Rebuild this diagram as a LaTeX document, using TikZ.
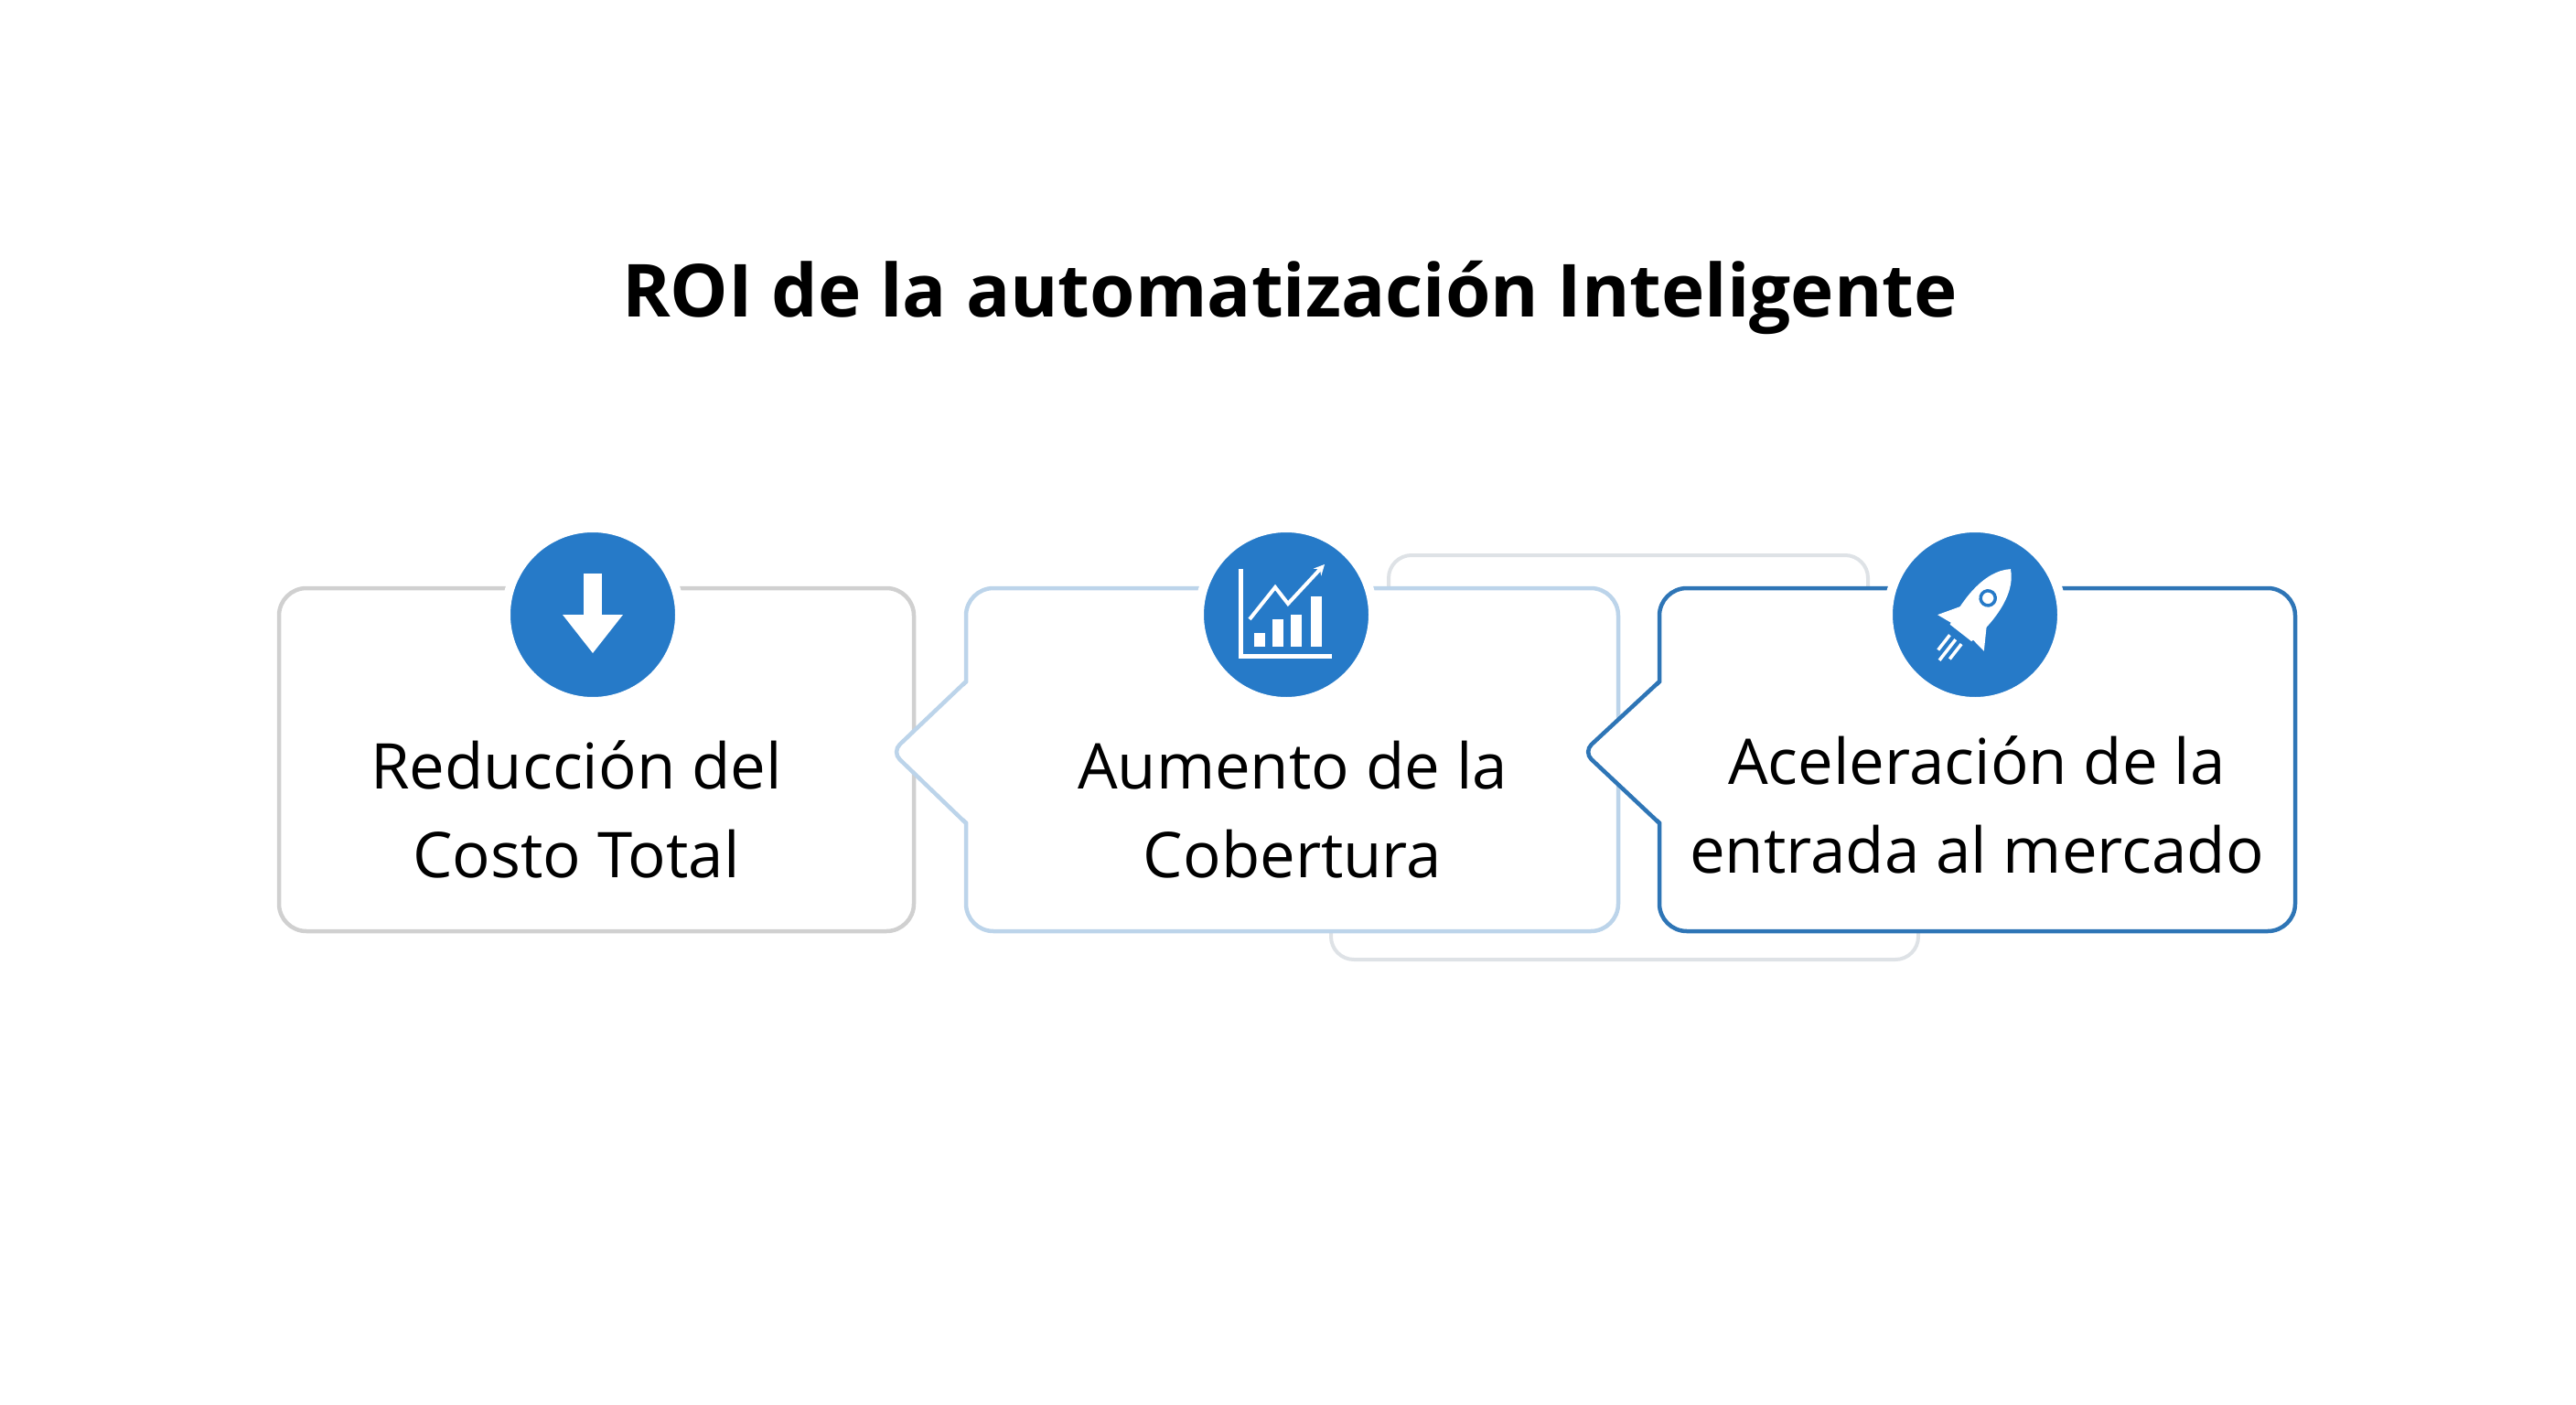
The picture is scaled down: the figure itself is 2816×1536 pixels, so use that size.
\documentclass[tikz,border=0pt]{standalone}
\usepackage{fontspec}
\setmainfont{Open Sans}
\usetikzlibrary{calc}
\begin{document}
\begin{tikzpicture}[x=1pt,y=-1pt,
  boxline/.style={line width=4.5pt,rounded corners=30pt,fill=white},
  circ/.style={circle,fill=iconblue,draw=white,line width=10pt,minimum size=190pt,inner sep=0pt},
  lbl/.style={align=center,font=\fontsize{69}{97}\selectfont,text=black},
  ico/.style={white,line width=6pt}]
\definecolor{iconblue}{RGB}{38,122,200}
\definecolor{g1}{RGB}{208,208,208}
\definecolor{b2}{RGB}{188,212,234}
\definecolor{b3}{RGB}{46,117,182}
\definecolor{bk}{RGB}{222,226,230}
\useasboundingbox (0,0) rectangle (2816,1536);
\node[font=\bfseries\fontsize{80}{96}\selectfont] (title) at (1410,325) {ROI de la automatización Inteligente};
% back box
\draw[bk,line width=4pt,rounded corners=25pt] (1518,660) -- (1518,607) -- (2042,607) -- (2042,660);
\draw[bk,line width=4pt,rounded corners=25pt] (1455,990) -- (1455,1049) -- (2097,1049) -- (2097,990);
% boxes
\draw[boxline,draw=g1] (305,643) rectangle (999,1018);
\draw[boxline,draw=b2] (1056,643) rectangle (1769,1018);
\fill[white] (1060,745) -- (975,822) -- (1060,900) -- cycle;
\draw[line width=4.5pt,draw=b2,rounded corners=12pt] (1056,745) -- (975,822) -- (1056,900);
\draw[boxline,draw=b3] (1814,643) rectangle (2509,1018);
\fill[white] (1818,745) -- (1731,822) -- (1818,900) -- cycle;
\draw[line width=4.5pt,draw=b3,rounded corners=12pt] (1814,745) -- (1731,822) -- (1814,900);
% circles
\node[circ] (c1) at (648,672) {};
\node[circ] (c2) at (1406,672) {};
\node[circ] (c3) at (2159,672) {};
% icon 1 down arrow
\fill[white] ($(c1)+(-10,-45)$) rectangle ($(c1)+(10,5)$);
\fill[white] ($(c1)+(-33,0)$) -- ($(c1)+(33,0)$) -- ($(c1)+(0,42)$) -- cycle;
% icon 2 chart
\draw[ico,line width=5pt] ($(c2)+(-50,-50)$) -- ($(c2)+(-50,45)$) -- ($(c2)+(50,45)$);
\foreach \xx/\hh in {-35/15,-15/30,5/35,27/55}
  \fill[white] ($(c2)+(\xx,35)$) rectangle ($(c2)+(\xx+12,35-\hh)$);
\draw[ico,line width=4pt,-stealth] ($(c2)+(-40,5)$) -- ($(c2)+(-12,-30)$) -- ($(c2)+(2,-12)$) -- ($(c2)+(42,-55)$);
% icon 3 rocket
\begin{scope}[shift={(c3)},rotate=-38,scale=1.15]
\fill[white] (0,-55) .. controls (20,-38) and (18,0) .. (13,22) -- (-13,22) .. controls (-18,0) and (-20,-38) .. (0,-55);
\fill[white] (-13,-2) -- (-28,22) -- (-13,20) -- cycle;
\fill[white] (13,-2) -- (28,22) -- (13,20) -- cycle;
\draw[iconblue,line width=3.5pt] (0,-20) circle (7);
\draw[white,line width=3.5pt] (-7,30) -- (-7,48) (0,30) -- (0,55) (7,30) -- (7,48);
\end{scope}
% labels
\node[lbl] (t1) at (630,885) {Reducción del\\Costo Total};
\node[lbl] (t2) at (1413,885) {Aumento de la\\Cobertura};
\node[lbl] (t3) at (2161,880) {Aceleración de la\\entrada al mercado};
\end{tikzpicture}
\end{document}
